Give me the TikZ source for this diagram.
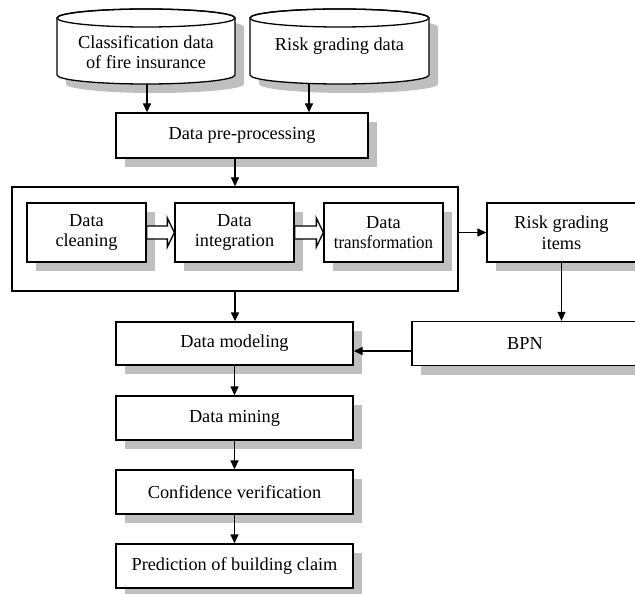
\documentclass[tikz,border=0pt]{standalone}
\usepackage{fontspec}
\usepackage{graphicx}
\setmainfont{Liberation Serif}
\usetikzlibrary{arrows.meta,shadows,calc}
\tikzset{
  box/.style={draw, line width=1.3bp, fill=white, align=center, inner sep=0pt,
    drop shadow={shadow xshift=9bp, shadow yshift=-9bp, fill=black!25, opacity=1}},
  arr/.style={line width=1.3bp, -{Triangle[length=9bp,width=8bp]}},
  hollow/.style={draw, line width=1.3bp, fill=white, line join=miter},
  cylline/.style={line width=1.3bp},
  shadowfill/.style={fill=black!25}
}
\newcommand{\cylpath}[3]{%
  (#1,18) arc[start angle=180, end angle=0, x radius=#3bp, y radius=9bp]
  -- (#2,75) arc[start angle=0, end angle=-180, x radius=#3bp, y radius=9bp] -- cycle}
\newcommand{\hollowarrow}[2]{%
  \draw[hollow] ([yshift=6.5bp]#1.east) -- ($(#2.west)+(-7,-6.5)$) -- ($(#2.west)+(-7,-14.5)$)
    -- (#2.west) -- ($(#2.west)+(-7,14.5)$) -- ($(#2.west)+(-7,6.5)$)
    -- ([yshift=-6.5bp]#1.east) -- cycle;}
\begin{document}
\begin{tikzpicture}[x=1bp,y=-1bp, font=\fontsize{18.3bp}{20.5bp}\selectfont]
\useasboundingbox (0,0) rectangle (635,594);
% cylinders
\begin{scope}[shift={(9,9)}]
  \fill[shadowfill] \cylpath{57}{235}{89};
  \fill[shadowfill] \cylpath{250}{429}{89.5};
\end{scope}
\filldraw[cylline, fill=white] \cylpath{57}{235}{89};
\draw[cylline] (146,18) ellipse[x radius=89bp, y radius=9bp];
\filldraw[cylline, fill=white] \cylpath{250}{429}{89.5};
\draw[cylline] (339.5,18) ellipse[x radius=89.5bp, y radius=9bp];
\node[align=center] (c1) at (146,52) {Classification data\\of fire insurance};
\node (c2) at (339.5,46) {Risk grading data};
\coordinate (c1b) at (147,84);
\coordinate (c2b) at (309,83.5);

% boxes
\node[box, minimum width=252bp, minimum height=45bp] (pre) at (242,135.5) {Data pre-processing};
\node[draw, line width=1.3bp, fill=white, minimum width=446bp, minimum height=104bp, inner sep=0pt] (frame) at (235,239) {};
\node[box, minimum width=119bp, minimum height=59bp] (clean) at (86.5,232.5) {Data\\cleaning};
\node[box, minimum width=119bp, minimum height=59bp] (integ) at (234.5,232.5) {Data\\integration};
\node[box, minimum width=119bp, minimum height=59bp] (trans) at (383.5,232.5) {Data\\\scalebox{0.92}[1]{transformation}};
\node[box, minimum width=149bp, minimum height=59bp] (risk) at (561.5,232.5) {Risk grading\\items};
\node[box, minimum width=237bp, minimum height=43bp] (model) at (234.5,343.5) {Data modeling};
\node[box, minimum width=226bp, minimum height=44bp] (bpn) at (525,343.5) {BPN};
\node[box, minimum width=237bp, minimum height=44bp] (mining) at (234.5,418) {Data mining};
\node[box, minimum width=237bp, minimum height=44bp] (conf) at (234.5,492) {Confidence verification};
\node[box, minimum width=237bp, minimum height=44bp] (pred) at (234.5,566) {Prediction of building claim};

% connectors
\draw[arr] (c1b) -- (c1b |- pre.north);
\draw[arr] (c2b) -- (c2b |- pre.north);
\draw[arr] (pre.south -| frame.north) -- (frame.north);
\draw[arr] (frame.south) -- (frame.south |- model.north);
\draw[arr] (risk.west -| frame.east) -- (risk.west);
\draw[arr] (risk.south) -- (risk.south |- bpn.north);
\draw[arr] ([yshift=-7.5bp]bpn.west) -- ([yshift=-7.5bp]model.east);
\draw[arr] (model.south) -- (mining.north);
\draw[arr] (mining.south) -- (conf.north);
\draw[arr] (conf.south) -- (pred.north);
\hollowarrow{clean}{integ}
\hollowarrow{integ}{trans}
\end{tikzpicture}
\end{document}
